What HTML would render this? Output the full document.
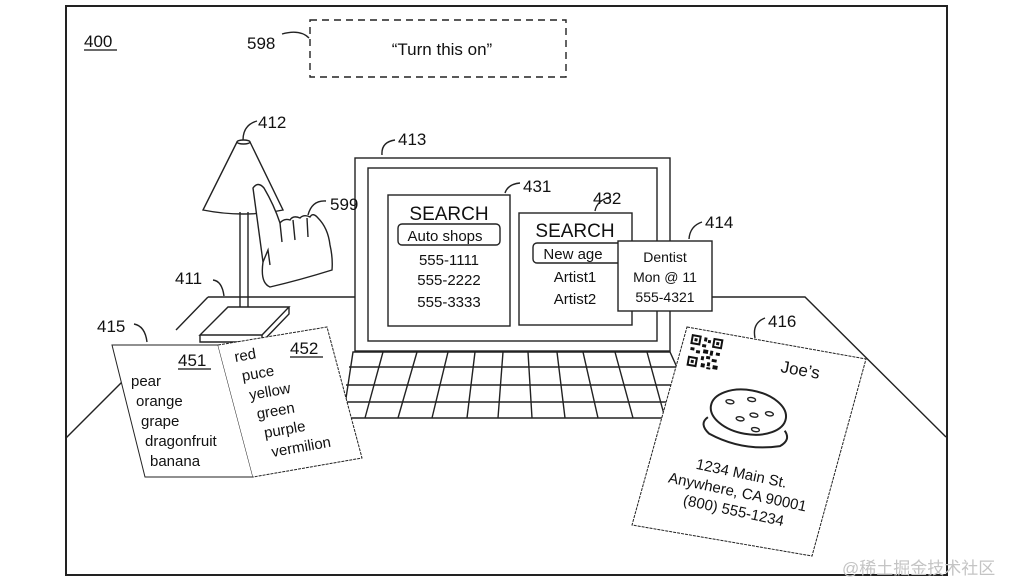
<!DOCTYPE html>
<html><head><meta charset="utf-8"><style>
html,body{margin:0;padding:0;background:#fff;}
svg{display:block;}
text{font-family:"Liberation Sans",Arial,sans-serif;fill:#111;}
</style></head><body>
<svg width="1010" height="582" viewBox="0 0 1010 582" xmlns="http://www.w3.org/2000/svg">
<g fill="none" stroke="#222" stroke-width="1.4">
<rect x="66" y="6" width="881" height="569" stroke-width="2"/>
<rect x="310" y="20" width="256" height="57" stroke-dasharray="7,5"/>
<path d="M282 34 Q300 29 309 38"/>
<path d="M208 297 L355 297"/>
<path d="M670 297 L805 297 L946 437"/>
<path d="M208 297 L176 330"/>
<path d="M122 382 L66 438"/>
<path d="M237 142 L203 210 Q243 218 283 210 L250 142"/>
<ellipse cx="243.5" cy="142" rx="6.5" ry="2"/>
<path d="M240 212 L240 322 L248 322 L248 212"/>
<path d="M228 307 L289 307 L262 335 L200 335 Z" fill="#fff"/>
<path d="M200 335 L200 342 L262 342 L289 314 L289 307 M262 335 L262 342"/>
<path d="M253 188 Q258 181 264 188 Q274 205 280 223 Q284 218 290 220 Q293 215 300 218 Q304 214 310 217 Q313 212 318 218 Q328 228 330 245 Q333 258 332 270 Q300 280 270 287 Q260 283 263 262 Q258 225 253 188 Z" fill="#fff"/>
<path d="M280 223 L282 242 M293 220 L295 240 M307 218 L308 237 M263 262 L268 250 L270 265"/>
<path d="M308 215 Q312 200 326 201"/>
<rect x="355" y="158" width="315" height="193" fill="#fff"/>
<rect x="368" y="168" width="289" height="173"/>
<path d="M353 352 L670 352 L700 418 L343 418 Z" fill="#fff"/>
<path d="M349 367 L677 367 M346 385 L685 385 M344 402 L693 402"/>
<path d="M383 352 L365 418 M417 352 L398 418 M448 352 L432 418 M475 352 L467 418 M503 352 L498 418 M528 352 L532 418 M557 352 L565 418 M583 352 L598 418 M615 352 L633 418 M647 352 L665 418"/>
<path d="M382 155 Q381 142 395 140"/>
<rect x="388" y="195" width="122" height="131" fill="#fff"/>
<rect x="398" y="224" width="102" height="21" rx="4"/>
<path d="M505 193 Q508 184 520 183"/>
<rect x="519" y="213" width="113" height="112" fill="#fff"/>
<rect x="533" y="243" width="96" height="20" rx="4"/>
<path d="M595 211 Q597 200 611 197"/>
<rect x="618" y="241" width="94" height="70" fill="#fff"/>
<path d="M689 239 Q690 226 702 222"/>
<path d="M243 140 Q243 125 257 121"/>
<path d="M213 280 Q222 281 224 296"/>
<path d="M134 324 Q145 326 147 342"/>
<path d="M755 338 Q752 323 765 318"/>
<path d="M112 345 L218 345 L253 477 L145 477 Z" fill="#fff" stroke-width="1"/>
<path d="M218 345 L327 327 L362 458 L253 477" fill="#fff" stroke-width="1" stroke-dasharray="3,1"/>
<path d="M687 327 L866 359 L812 556 L632 525 Z" fill="#fff" stroke-width="1" stroke-dasharray="3,1"/>
<g transform="rotate(10 747 420)">
<path d="M708 424 Q700 432 712 440 Q748 452 784 440 Q794 432 786 424" fill="#fff" stroke-width="2"/>
<ellipse cx="747" cy="412" rx="38" ry="22" fill="#fff" stroke-width="2"/>
<ellipse cx="727" cy="405" rx="4" ry="2"/><ellipse cx="748" cy="399" rx="4" ry="2"/><ellipse cx="768" cy="410" rx="4" ry="2"/>
<ellipse cx="740" cy="420" rx="4" ry="2"/><ellipse cx="753" cy="414" rx="4" ry="2"/><ellipse cx="757" cy="428" rx="4" ry="2"/>
</g>
</g>
<g transform="translate(692,334) rotate(10)" fill="#111">
<rect x="0" y="0" width="10" height="10"/><rect x="2" y="2" width="6" height="6" fill="#fff"/><rect x="3.5" y="3.5" width="3" height="3"/>
<rect x="22" y="0" width="10" height="10"/><rect x="24" y="2" width="6" height="6" fill="#fff"/><rect x="25.5" y="3.5" width="3" height="3"/>
<rect x="0" y="22" width="10" height="10"/><rect x="2" y="24" width="6" height="6" fill="#fff"/><rect x="3.5" y="25.5" width="3" height="3"/>
<rect x="13" y="1" width="3" height="4"/><rect x="17" y="3" width="3" height="3"/><rect x="12" y="8" width="4" height="3"/><rect x="1" y="13" width="4" height="3"/>
<rect x="7" y="15" width="4" height="3"/><rect x="14" y="13" width="5" height="4"/><rect x="21" y="13" width="3" height="5"/><rect x="27" y="14" width="4" height="3"/>
<rect x="13" y="20" width="3" height="4"/><rect x="18" y="19" width="4" height="3"/><rect x="24" y="21" width="5" height="3"/><rect x="14" y="27" width="4" height="4"/>
<rect x="20" y="25" width="3" height="4"/><rect x="26" y="27" width="5" height="4"/><rect x="20" y="30" width="4" height="2"/>
</g>
<g font-size="17">
<text x="84" y="47">400</text><path d="M84 50 L117 50" stroke="#111" stroke-width="1.2"/>
<text x="247" y="49">598</text>
<text x="258" y="128">412</text>
<text x="398" y="145">413</text>
<text x="523" y="192">431</text>
<text x="593" y="204">432</text>
<text x="705" y="228">414</text>
<text x="330" y="210">599</text>
<text x="175" y="284">411</text>
<text x="97" y="332">415</text>
<text x="768" y="327">416</text>
<text x="290" y="354">452</text><path d="M290 357 L323 357" stroke="#111" stroke-width="1.2"/>
<text x="178" y="366">451</text><path d="M178 369 L211 369" stroke="#111" stroke-width="1.2"/>
</g>
<text x="442" y="55" font-size="17" text-anchor="middle">“Turn this on”</text>
<g text-anchor="middle">
<text x="449" y="220" font-size="19">SEARCH</text>
<text x="445" y="241" font-size="15">Auto shops</text>
<text x="449" y="265" font-size="15">555-1111</text>
<text x="449" y="285" font-size="15">555-2222</text>
<text x="449" y="307" font-size="15">555-3333</text>
<text x="575" y="237" font-size="19">SEARCH</text>
<text x="573" y="259" font-size="15">New age</text>
<text x="575" y="282" font-size="15">Artist1</text>
<text x="575" y="304" font-size="15">Artist2</text>
<text x="665" y="262" font-size="14">Dentist</text>
<text x="665" y="282" font-size="14">Mon @ 11</text>
<text x="665" y="302" font-size="14">555-4321</text>
</g>
<g font-size="15">
<text x="131" y="386">pear</text>
<text x="136" y="406">orange</text>
<text x="141" y="426">grape</text>
<text x="145" y="446">dragonfruit</text>
<text x="150" y="466">banana</text>
<g transform="rotate(-10 235 360)">
<text x="235" y="362">red</text>
<text x="239" y="382">puce</text>
<text x="243" y="402">yellow</text>
<text x="247" y="422">green</text>
<text x="251" y="442">purple</text>
<text x="255" y="462">vermilion</text>
</g>
<text x="780" y="372" font-size="17" transform="rotate(10 780 372)">Joe’s</text>
<g transform="rotate(12 738 490)" text-anchor="middle">
<text x="738" y="478">1234 Main St.</text>
<text x="738" y="497">Anywhere, CA 90001</text>
<text x="738" y="516">(800) 555-1234</text>
</g>
</g>
<text x="842" y="574" font-size="17" style="fill:#c4c4c4;font-family:'Liberation Sans','Noto Sans CJK SC',sans-serif">@稀土掘金技术社区</text>
</svg>
</body></html>
